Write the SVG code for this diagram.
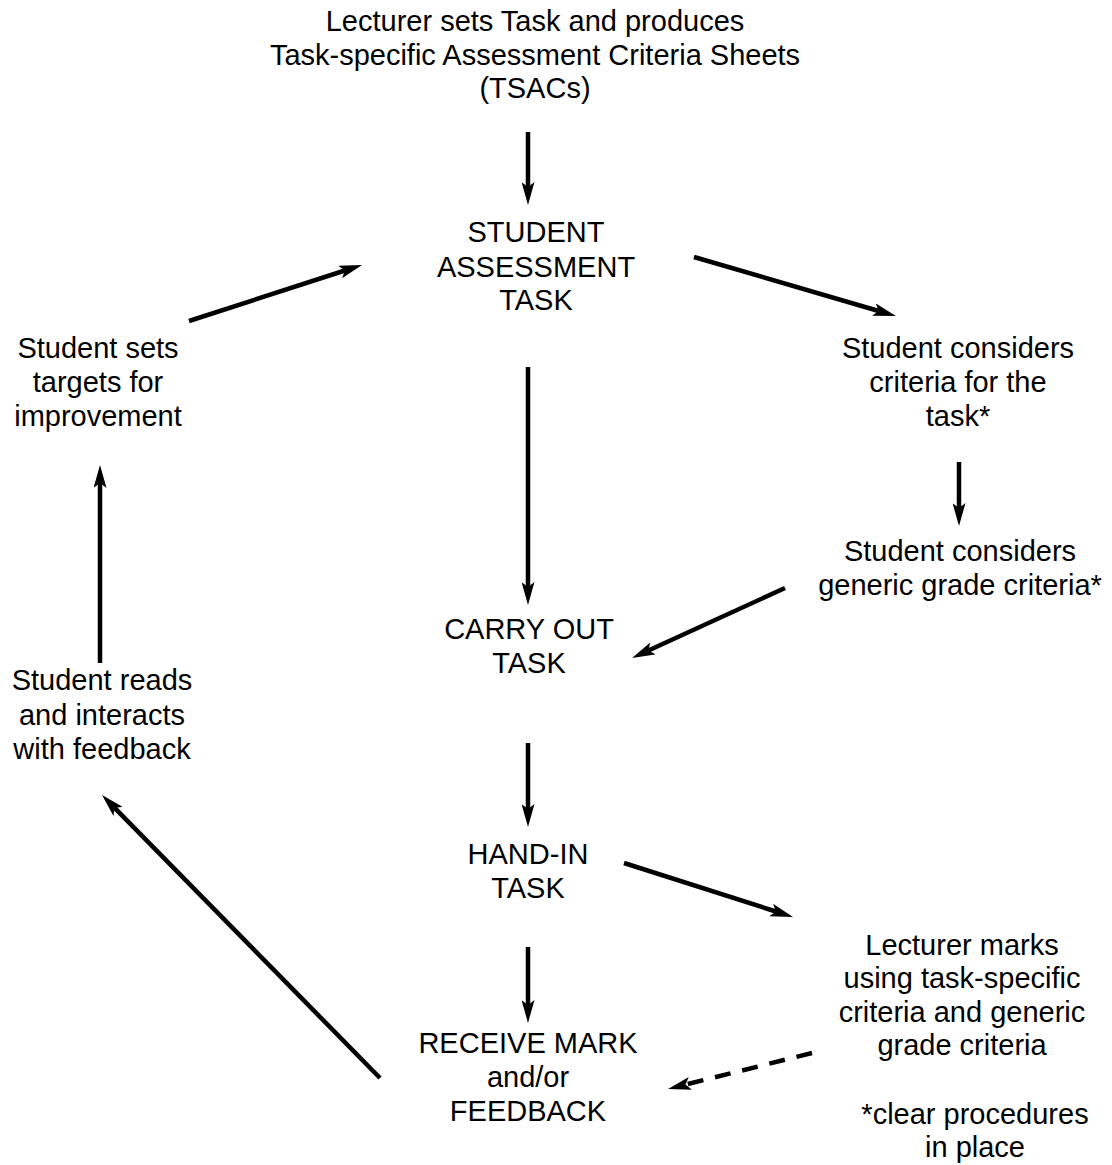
<svg xmlns="http://www.w3.org/2000/svg" width="1112" height="1165" viewBox="0 0 1112 1165">
<style>
text{font-family:"Liberation Sans",Arial,Helvetica,sans-serif;font-size:29px;fill:#000;text-anchor:middle}
.c line{stroke:#000;stroke-width:4.5;fill:none;marker-end:url(#ah)}
.c .dash{stroke-dasharray:16 12}
</style>
<defs>
<marker id="ah" markerUnits="userSpaceOnUse" viewBox="0 -6.5 23 13" markerWidth="23" markerHeight="13" refX="5" refY="0" orient="auto">
<path d="M0,-6.5 L23,0 L0,6.5 L5,0 Z" fill="#000" stroke="none"/>
</marker>
</defs>
<rect width="1112" height="1165" fill="#fff"/>
<g id="title">
<text x="535" y="31">Lecturer sets Task and produces</text>
<text x="535" y="65">Task-specific Assessment Criteria Sheets</text>
<text x="535" y="98">(TSACs)</text>
</g>
<g id="sat">
<text x="536" y="242">STUDENT</text>
<text x="536" y="277">ASSESSMENT</text>
<text x="536" y="310">TASK</text>
</g>
<g id="targets">
<text x="98" y="358">Student sets</text>
<text x="98" y="392">targets for</text>
<text x="98" y="426">improvement</text>
</g>
<g id="considers1">
<text x="958" y="358">Student considers</text>
<text x="958" y="392">criteria for the</text>
<text x="958" y="426">task*</text>
</g>
<g id="considers2">
<text x="960" y="561">Student considers</text>
<text x="960" y="595">generic grade criteria*</text>
</g>
<g id="carry">
<text x="529" y="639">CARRY OUT</text>
<text x="529" y="673">TASK</text>
</g>
<g id="reads">
<text x="102" y="690">Student reads</text>
<text x="102" y="725">and interacts</text>
<text x="102" y="759">with feedback</text>
</g>
<g id="handin">
<text x="528" y="864">HAND-IN</text>
<text x="528" y="898">TASK</text>
</g>
<g id="lecturer">
<text x="962" y="955">Lecturer marks</text>
<text x="962" y="988">using task-specific</text>
<text x="962" y="1022">criteria and generic</text>
<text x="962" y="1055">grade criteria</text>
</g>
<g id="receive">
<text x="528" y="1053">RECEIVE MARK</text>
<text x="528" y="1087">and/or</text>
<text x="528" y="1121">FEEDBACK</text>
</g>
<g id="note">
<text x="975" y="1124">*clear procedures</text>
<text x="975" y="1157">in place</text>
</g>
<g id="connectors" class="c">
<line x1="528" y1="132" x2="528" y2="187"/>
<line x1="694" y1="257" x2="878.7" y2="311"/>
<line x1="189" y1="321" x2="344.9" y2="270.5"/>
<line x1="528" y1="367" x2="528" y2="587"/>
<line x1="959" y1="462" x2="959" y2="508"/>
<line x1="785" y1="588" x2="648.4" y2="650.5"/>
<line x1="100" y1="663" x2="100" y2="483"/>
<line x1="528" y1="743" x2="528" y2="809"/>
<line x1="624" y1="863" x2="775.9" y2="911.5"/>
<line x1="528" y1="947" x2="528" y2="1005"/>
<line x1="380" y1="1078" x2="114.6" y2="807.8"/>
<line class="dash" x1="812" y1="1053" x2="685.5" y2="1084.6"/>
</g>
</svg>
